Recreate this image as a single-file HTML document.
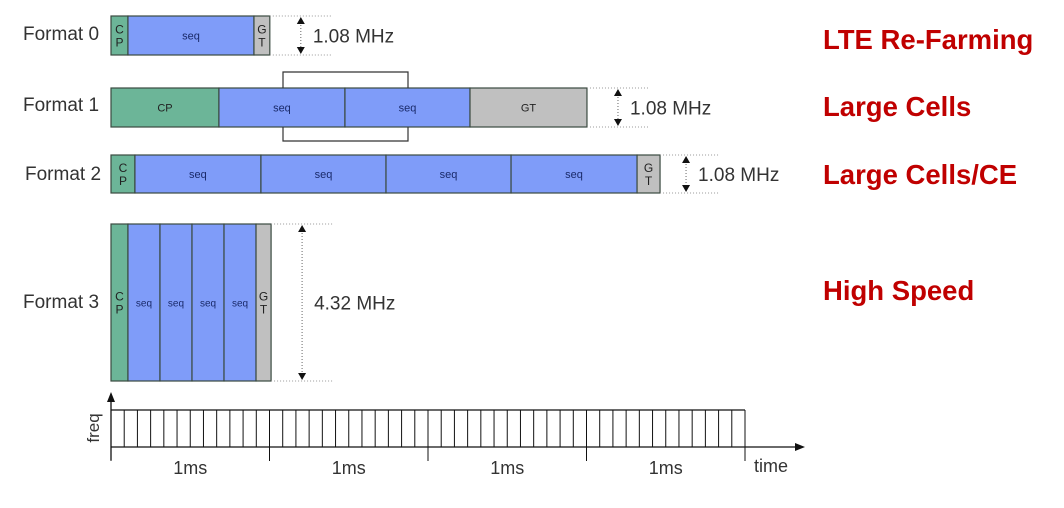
<!DOCTYPE html>
<html><head><meta charset="utf-8"><style>
body{margin:0;background:#fff;width:1064px;height:508px;overflow:hidden}
svg{display:block;font-family:"Liberation Sans",Arial,sans-serif}
</style></head><body>
<svg id="c" width="1064" height="508"></svg>
<script>
// data: segment durations (ms) per format
const formatNames = ["Format 0","Format 1","Format 2","Format 3"];
const segTypes = [["CP","seq","GT"],["CP","seq","seq","GT"],["CP","seq","seq","seq","seq","GT"],["CP","seq","seq","seq","seq","GT"]];
const segDur = [[0.107,0.795,0.1],[0.681,0.795,0.789,0.738],[0.151,0.795,0.789,0.789,0.795,0.145],[0.107,0.202,0.202,0.202,0.202,0.095]];
const bandLabels = ["1.08 MHz","1.08 MHz","1.08 MHz","4.32 MHz"];
const useCases = ["LTE Re-Farming","Large Cells","Large Cells/CE","High Speed"];
const msLabels = ["1ms","1ms","1ms","1ms"];
const slotsPerMs = 12;

const NS="http://www.w3.org/2000/svg";
const svg=document.getElementById('c');
const x0=111, pxPerMs=158.5;
const X=t=>x0+t*pxPerMs;
function el(tag,attrs,txt){const e=document.createElementNS(NS,tag);for(const k in attrs)e.setAttribute(k,attrs[k]);if(txt!=null)e.textContent=txt;svg.appendChild(e);return e;}
const rowTop=[16,88,155,224], rowBot=[55,127,193,381];
const labelY=[40,111,180,308];
const colors={CP:"#6cb598",seq:"#7f9cf9",GT:"#c0c0c0"};
const caseY=[49,116,184,300];

formatNames.forEach((n,i)=>{
  const t=el('text',{x:i==2?25:23,y:labelY[i],'font-size':19,fill:'#333'},n);
  
  
  let t0=0;
  const top=rowTop[i],bot=rowBot[i],h=bot-top;
  segTypes[i].forEach((s,j)=>{
    const xa=X(t0),xb=X(t0+segDur[i][j]);t0+=segDur[i][j];
    const r=el('rect',{x:xa,y:top,width:xb-xa,height:h,fill:colors[s],stroke:'#3a4a40','stroke-width':1.2});
    
    
    const cx=(xa+xb)/2, cy=(top+bot)/2;
    const narrow=(xb-xa)<30 && s!=="seq";
    if(narrow){
      el('text',{x:cx,y:cy-2,'font-size':12,'text-anchor':'middle',fill:'#222'},s[0]);
      el('text',{x:cx,y:cy+11,'font-size':12,'text-anchor':'middle',fill:'#222'},s[1]);
    } else {
      el('text',{x:cx,y:cy+4,'font-size':i==3?10:11,'text-anchor':'middle',fill:s==="seq"?'#1a2a6a':'#222'},s);
    }
  });
  const xe=X(t0);
  const ax = i==1?xe+31:(i==2?xe+26:xe+31);
  el('line',{x1:xe,y1:top,x2:ax+32,y2:top,stroke:'#999','stroke-dasharray':'1,2'});
  el('line',{x1:xe,y1:bot,x2:ax+32,y2:bot,stroke:'#999','stroke-dasharray':'1,2'});
  el('line',{x1:ax,y1:top+6,x2:ax,y2:bot-6,stroke:'#666','stroke-dasharray':'1,2'});
  el('path',{d:`M${ax-4},${top+8}L${ax},${top+1}L${ax+4},${top+8}Z M${ax-4},${bot-8}L${ax},${bot-1}L${ax+4},${bot-8}Z`,fill:'#111'});
  const b=el('text',{x:ax+12,y:(top+bot)/2+7,'font-size':19,fill:'#333'},bandLabels[i]);
  
  
  const u=el('text',{x:823,y:caseY[i],'font-size':27.5,'font-weight':'bold',fill:'#c00000'},useCases[i]);
  
  
});
// bracket on format 1
el('path',{d:"M283,88 V72 H408 V88 M283,127 V141 H408 V127",fill:'none',stroke:'#333','stroke-width':1.2});

// time axis
const nMs=msLabels.length, axY=447, topY=410;
el('line',{x1:x0,y1:axY,x2:X(nMs)+50,y2:axY,stroke:'#111','stroke-width':1.3});
el('path',{d:`M${X(nMs)+60},${axY}L${X(nMs)+50},${axY-4}L${X(nMs)+50},${axY+4}Z`,fill:'#111'});
el('line',{x1:x0,y1:axY+13,x2:x0,y2:395,stroke:'#111','stroke-width':1.3});
el('path',{d:`M${x0},392L${x0-4},402L${x0+4},402Z`,fill:'#111'});
el('line',{x1:x0,y1:topY,x2:X(nMs),y2:topY,stroke:'#111','stroke-width':1.3});
const f=el('text',{x:0,y:0,'font-size':17,fill:'#333',transform:'translate(99,428) rotate(-90)','text-anchor':'middle'},'freq');


for(let k=1;k<=nMs*slotsPerMs;k++){
  const xx=X(k/slotsPerMs);
  el('line',{x1:xx,y1:topY,x2:xx,y2:axY,stroke:'#111','stroke-width':1});
}
for(let m=0;m<=nMs;m++){
  el('line',{x1:X(m),y1:axY,x2:X(m),y2:axY+14,stroke:'#111','stroke-width':1});
}
msLabels.forEach((l,m)=>{
  const t=el('text',{x:X(m+0.5),y:474,'font-size':18,'text-anchor':'middle',fill:'#333'},l);
  
  
});
const tt=el('text',{x:754,y:472,'font-size':18,fill:'#333'},'time');


</script>
</body></html>
